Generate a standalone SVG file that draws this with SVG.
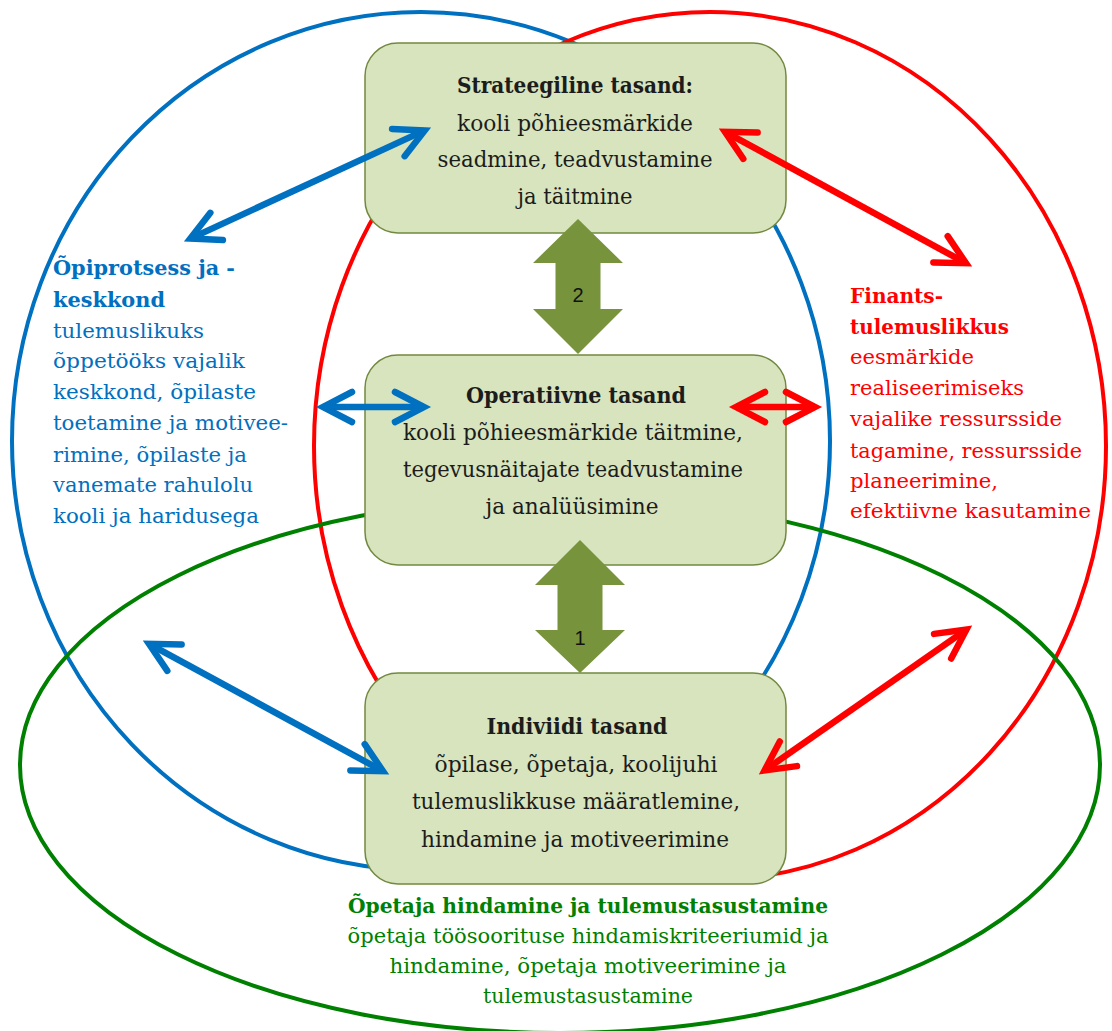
<svg xmlns="http://www.w3.org/2000/svg" width="1112" height="1031" viewBox="0 0 1112 1031">
<style>
.bg{fill:#ffffff}
.ell{fill:none;stroke-width:4}
.box{fill:#D7E4BD;stroke:#71893F;stroke-width:1.5}
.blk{fill:#77933C}
.conn{fill:none;stroke-width:6.5;stroke-linecap:butt}
.bl{stroke:#0070C0}
.rd{stroke:#FF0000}
.t{font-family:"DejaVu Serif","Liberation Serif",serif;font-size:21px}
.bt{font-family:"DejaVu Serif","Liberation Serif",serif;font-size:22px;fill:#1c1c1c;text-anchor:middle}
.b{font-weight:bold}
.num{font-family:"Liberation Sans",Arial,sans-serif;font-size:20px;fill:#111;text-anchor:middle}
</style>
<defs>
<marker id="hb" viewBox="-40 -20 50 40" markerWidth="50" markerHeight="40" refX="0" refY="0" orient="auto-start-reverse" markerUnits="userSpaceOnUse" overflow="visible">
<path d="M-29,-15 L0,0 L-29,15" fill="none" stroke="#0070C0" stroke-width="6.5" stroke-linejoin="miter" stroke-linecap="round"/>
</marker>
<marker id="hr" viewBox="-40 -20 50 40" markerWidth="50" markerHeight="40" refX="0" refY="0" orient="auto-start-reverse" markerUnits="userSpaceOnUse" overflow="visible">
<path d="M-29,-15 L0,0 L-29,15" fill="none" stroke="#FF0000" stroke-width="6.5" stroke-linejoin="miter" stroke-linecap="round"/>
</marker>
</defs>
<rect class="bg" x="0" y="0" width="1112" height="1031"/>

<g id="areas">
<ellipse id="area-blue" class="ell" stroke="#0070C0" cx="421" cy="441" rx="409" ry="429"/>
<ellipse id="area-red" class="ell" stroke="#FF0000" cx="710" cy="446" rx="396" ry="434"/>
<ellipse id="area-green" class="ell" stroke="#008000" cx="560" cy="765" rx="540" ry="268"/>
</g>

<g id="node-strategic">
<rect class="box" x="365" y="43" width="421" height="190" rx="33" ry="33"/>
<text class="bt b" x="575" y="93" textLength="236" lengthAdjust="spacingAndGlyphs">Strateegiline tasand:</text>
<text class="bt" x="575" y="131" textLength="236" lengthAdjust="spacingAndGlyphs">kooli põhieesmärkide</text>
<text class="bt" x="575" y="167" textLength="275" lengthAdjust="spacingAndGlyphs">seadmine, teadvustamine</text>
<text class="bt" x="575" y="204" textLength="115" lengthAdjust="spacingAndGlyphs">ja täitmine</text>
</g>

<g id="node-operative">
<rect class="box" x="365" y="355" width="421" height="210" rx="33" ry="33"/>
<text class="bt b" x="576" y="403" textLength="220" lengthAdjust="spacingAndGlyphs">Operatiivne tasand</text>
<text class="bt" x="573" y="440" textLength="340" lengthAdjust="spacingAndGlyphs">kooli põhieesmärkide täitmine,</text>
<text class="bt" x="573" y="477" textLength="340" lengthAdjust="spacingAndGlyphs">tegevusnäitajate teadvustamine</text>
<text class="bt" x="572" y="514" textLength="173" lengthAdjust="spacingAndGlyphs">ja analüüsimine</text>
</g>

<g id="node-individual">
<rect class="box" x="365" y="673" width="421" height="211" rx="33" ry="33"/>
<text class="bt b" x="577" y="734" textLength="181" lengthAdjust="spacingAndGlyphs">Indiviidi tasand</text>
<text class="bt" x="576" y="772" textLength="283" lengthAdjust="spacingAndGlyphs">õpilase, õpetaja, koolijuhi</text>
<text class="bt" x="576" y="809" textLength="328" lengthAdjust="spacingAndGlyphs">tulemuslikkuse määratlemine,</text>
<text class="bt" x="575" y="847" textLength="308" lengthAdjust="spacingAndGlyphs">hindamine ja motiveerimine</text>
</g>

<g id="label-learning" class="t" fill="#0070C0">
<text class="b" x="53" y="275" textLength="182" lengthAdjust="spacingAndGlyphs">Õpiprotsess ja -</text>
<text class="b" x="53" y="307" textLength="112" lengthAdjust="spacingAndGlyphs">keskkond</text>
<text x="53" y="338" textLength="151" lengthAdjust="spacingAndGlyphs">tulemuslikuks</text>
<text x="53" y="368" textLength="192" lengthAdjust="spacingAndGlyphs">õppetööks vajalik</text>
<text x="53" y="399" textLength="203" lengthAdjust="spacingAndGlyphs">keskkond, õpilaste</text>
<text x="53" y="430" textLength="235" lengthAdjust="spacingAndGlyphs">toetamine ja motivee-</text>
<text x="53" y="462" textLength="194" lengthAdjust="spacingAndGlyphs">rimine, õpilaste ja</text>
<text x="53" y="492" textLength="200" lengthAdjust="spacingAndGlyphs">vanemate rahulolu</text>
<text x="53" y="523" textLength="206" lengthAdjust="spacingAndGlyphs">kooli ja haridusega</text>
</g>

<g id="label-finance" class="t" fill="#FF0000">
<text class="b" x="850" y="303" textLength="93" lengthAdjust="spacingAndGlyphs">Finants-</text>
<text class="b" x="850" y="334" textLength="159" lengthAdjust="spacingAndGlyphs">tulemuslikkus</text>
<text x="850" y="364" textLength="124" lengthAdjust="spacingAndGlyphs">eesmärkide</text>
<text x="850" y="395" textLength="174" lengthAdjust="spacingAndGlyphs">realiseerimiseks</text>
<text x="850" y="426" textLength="212" lengthAdjust="spacingAndGlyphs">vajalike ressursside</text>
<text x="850" y="458" textLength="232" lengthAdjust="spacingAndGlyphs">tagamine, ressursside</text>
<text x="850" y="488" textLength="148" lengthAdjust="spacingAndGlyphs">planeerimine,</text>
<text x="850" y="518" textLength="241" lengthAdjust="spacingAndGlyphs">efektiivne kasutamine</text>
</g>

<g id="label-teacher" class="t" fill="#008000" text-anchor="middle">
<text class="b" x="588" y="913" textLength="480" lengthAdjust="spacingAndGlyphs">Õpetaja hindamine ja tulemustasustamine</text>
<text x="588" y="943" textLength="481" lengthAdjust="spacingAndGlyphs">õpetaja töösoorituse hindamiskriteeriumid ja</text>
<text x="588" y="973" textLength="397" lengthAdjust="spacingAndGlyphs">hindamine, õpetaja motiveerimine ja</text>
<text x="588" y="1003" textLength="210" lengthAdjust="spacingAndGlyphs">tulemustasustamine</text>
</g>

<g id="connectors">
<polygon class="blk" points="578,219 623,263 600.5,263 600.5,309 623,309 578,354 533,309 555.5,309 555.5,263 533,263"/>
<text class="num" x="578" y="302">2</text>
<polygon class="blk" points="580,540 625,585 602.5,585 602.5,630 625,630 580,673 535,630 557.5,630 557.5,585 535,585"/>
<text class="num" x="580" y="645">1</text>
<line class="conn bl" x1="190.3" y1="238.6" x2="424.7" y2="130.4" marker-start="url(#hb)" marker-end="url(#hb)"/>
<line class="conn rd" x1="725.0" y1="131.8" x2="966.0" y2="263.2" marker-start="url(#hr)" marker-end="url(#hr)"/>
<line class="conn bl" x1="323" y1="407" x2="424" y2="407" marker-start="url(#hb)" marker-end="url(#hb)"/>
<line class="conn rd" x1="736" y1="407" x2="815" y2="407" marker-start="url(#hr)" marker-end="url(#hr)"/>
<line class="conn bl" x1="149.0" y1="643.8" x2="383.0" y2="771.2" marker-start="url(#hb)" marker-end="url(#hb)"/>
<line class="conn rd" x1="764.6" y1="770.4" x2="966.4" y2="629.6" marker-start="url(#hr)" marker-end="url(#hr)"/>
</g>
</svg>
